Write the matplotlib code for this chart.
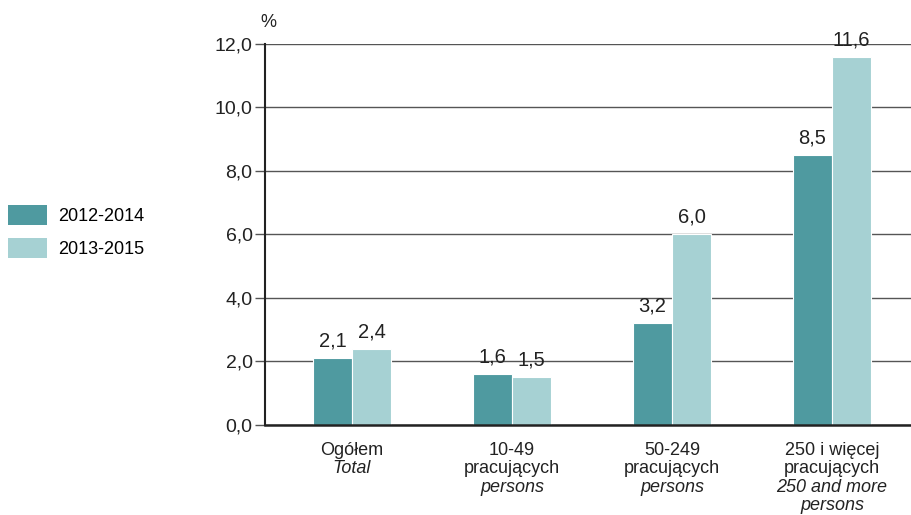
import matplotlib
matplotlib.use("Agg")
import matplotlib.pyplot as plt
from matplotlib.patches import Patch
import numpy as np

plt.rcParams['font.family'] = ['Liberation Sans', 'DejaVu Sans']

groups_pl = ["Ogółem", "10-49\npracujących", "50-249\npracujących", "250 i więcej\npracujących"]
groups_en = ["Total", "persons", "persons", "250 and more\npersons"]
series_names = ["2012-2014", "2013-2015"]
vals_2012_2014 = [2.1, 1.6, 3.2, 8.5]
vals_2013_2015 = [2.4, 1.5, 6.0, 11.6]
y_ticks = [0, 2, 4, 6, 8, 10, 12]

dark = "#4f9aa0"
light = "#a6d1d3"
txt = "#222222"

fig = plt.figure(figsize=(9.12, 5.15), dpi=100)
ax = fig.add_axes([0.2906, 0.1748, 0.7094, 0.7398])

x = np.arange(len(groups_pl))
w = 0.245
b1 = ax.bar(x - w / 2, vals_2012_2014, w, color=dark, edgecolor="white", linewidth=0.8, zorder=3)
b2 = ax.bar(x + w / 2, vals_2013_2015, w, color=light, edgecolor="white", linewidth=0.8, zorder=3)

def fmt(v):
    return f"{v:.1f}".replace(".", ",")

for bars, vals in ((b1, vals_2012_2014), (b2, vals_2013_2015)):
    for r, v in zip(bars, vals):
        ax.annotate(fmt(v), (r.get_x() + r.get_width() / 2, v), xytext=(0, 5.5),
                    textcoords="offset points", ha="center", va="bottom", fontsize=14.5, color=txt)

ax.set_xlim(-0.544, 3.5)
ax.set_ylim(0, 12)
ax.set_yticks(y_ticks)
ax.set_yticklabels([fmt(t) for t in y_ticks], fontsize=14, color=txt)
ax.yaxis.grid(True, color="#555555", linewidth=1.0, zorder=0)
ax.set_axisbelow(True)
ax.tick_params(axis="y", length=7, width=1, color="#555555", pad=2)
ax.set_xticks([])
for s in ("top", "right"):
    ax.spines[s].set_visible(False)
ax.spines["left"].set_color(txt)
ax.spines["left"].set_linewidth(1.5)
ax.spines["bottom"].set_color(txt)
ax.spines["bottom"].set_linewidth(1.8)
ax.spines["bottom"].set_zorder(4)

ax.text(-0.52, 12.4, "%", ha="center", va="bottom", fontsize=13, color=txt)

# category labels line by line: Polish upright, English italic
step = 18.5 / 1.389
first = 25.5 / 1.389
for xi, pl, en in zip(x, groups_pl, groups_en):
    lines = [(s, "normal") for s in pl.split("\n")] + [(s, "italic") for s in en.split("\n")]
    for i, (s, st) in enumerate(lines):
        ax.annotate(s, (xi, 0), xytext=(0, -(first + step * i)), textcoords="offset points",
                    ha="center", va="center", fontsize=13, color=txt, style=st,
                    annotation_clip=False)

handles = [Patch(facecolor=dark), Patch(facecolor=light)]
fig.legend(handles, series_names, loc="upper left", bbox_to_anchor=(0.0088, 0.602),
           frameon=False, fontsize=13, handlelength=2.16, handleheight=1.3,
           handletextpad=0.6, labelspacing=0.75, borderaxespad=0, borderpad=0)

fig.savefig("out.png", dpi=100)
